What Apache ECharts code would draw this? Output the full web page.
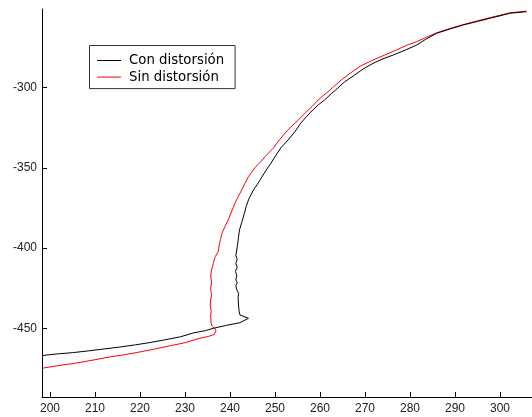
<!DOCTYPE html>
<html>
<head>
<meta charset="utf-8">
<script src="https://cdn.jsdelivr.net/npm/echarts@6/dist/echarts.min.js"></script>
<style>
  html, body { margin: 0; padding: 0; background: #fff; }
  #chart { width: 532px; height: 417px; }
</style>
</head>
<body>
<div id="chart"></div>
<script>
// Trajectory with and without distortion: [x, y] samples
const conDistorsion = [
  [198.2,-467.0],[201.5,-466.0],[205.0,-465.2],[208.5,-464.1],[212.0,-462.9],[215.5,-461.7],
  [219.0,-460.3],[222.0,-459.0],[225.5,-457.2],[229.0,-455.3],[232.0,-452.8],[234.5,-451.5],
  [236.3,-450.0],[239.0,-448.3],[242.2,-446.5],[244.1,-443.8],[242.2,-441.7],[242.0,-439.0],
  [241.9,-435.5],[241.8,-431.0],[241.9,-428.2],[241.5,-426.0],[241.3,-423.5],[241.6,-421.5],
  [241.3,-419.9],[241.5,-417.0],[241.2,-414.5],[241.6,-412.0],[241.3,-409.5],[241.6,-407.0],
  [241.3,-404.5],[241.5,-401.2],[241.7,-397.5],[241.9,-393.0],[242.1,-388.7],[242.6,-384.0],
  [243.2,-378.3],[243.6,-374.0],[244.1,-370.0],[244.6,-367.0],[245.2,-363.8],[246.0,-360.5],
  [246.7,-357.5],[248.0,-351.5],[249.0,-347.5],[250.0,-343.0],[251.3,-337.5],[252.9,-332.6],
  [254.4,-327.5],[255.7,-322.2],[257.0,-318.0],[258.4,-313.9],[259.7,-310.5],[261.0,-307.7],
  [262.6,-303.5],[263.5,-301.4],[265.4,-296.5],[267.7,-292.1],[269.6,-288.3],[271.8,-284.8],
  [274.0,-282.0],[276.3,-279.6],[279.0,-276.5],[281.5,-273.4],[283.5,-269.8],[285.9,-266.1],
  [289.0,-263.3],[291.8,-260.9],[295.0,-258.7],[297.8,-256.7],[300.0,-255.2],[302.2,-253.6],
  [305.9,-252.6]
];

const sinDistorsion = [
  [198.2,-474.9],[202.0,-473.2],[206.0,-471.6],[210.0,-469.6],[213.0,-468.0],[216.3,-466.6],
  [219.5,-465.0],[223.0,-463.1],[226.5,-461.0],[230.0,-459.0],[233.3,-456.2],[235.3,-455.0],
  [236.5,-453.8],[236.9,-451.6],[236.6,-450.0],[236.1,-449.0],[235.8,-446.9],[235.7,-443.0],
  [235.8,-439.0],[235.6,-435.5],[235.7,-432.4],[235.9,-429.0],[235.7,-425.5],[235.9,-421.0],
  [235.7,-417.5],[235.9,-413.7],[236.3,-409.5],[236.7,-405.4],[237.4,-402.2],[237.6,-398.0],
  [237.9,-394.5],[238.2,-390.8],[238.9,-386.5],[239.6,-382.5],[240.3,-377.5],[241.1,-372.1],
  [241.8,-368.0],[242.6,-363.8],[243.3,-359.8],[244.1,-355.5],[245.5,-350.0],[246.7,-346.5],
  [247.8,-343.0],[249.5,-338.0],[251.0,-332.5],[252.2,-328.4],[253.7,-324.0],[255.2,-320.1],
  [256.8,-315.5],[258.2,-311.8],[259.3,-308.5],[260.4,-305.6],[262.0,-302.0],[263.0,-299.4],
  [264.8,-295.0],[266.7,-291.0],[269.0,-286.5],[271.8,-282.7],[274.5,-279.5],[277.0,-276.5],
  [279.3,-273.5],[281.5,-271.3],[283.7,-268.5],[285.9,-265.8],[289.0,-263.0],[291.8,-260.7],
  [295.0,-258.3],[297.8,-256.3],[300.0,-254.8],[302.2,-253.3],[305.9,-252.3]
];

const xTicks = [200, 210, 220, 230, 240, 250, 260, 270, 280, 290, 300];
const yTicks = [-300, -350, -400, -450];
const seriesNames = ['Con distorsión', 'Sin distorsión'];

const FONT = '"Liberation Sans", Arial, sans-serif';

const chart = echarts.init(document.getElementById('chart'), null, { renderer: 'canvas' });

chart.setOption({
  animation: false,
  backgroundColor: '#fff',
  grid: { left: 42, top: 9, width: 490, height: 388, containLabel: false },
  xAxis: {
    type: 'value',
    min: 198.22,
    max: 307.11,
    axisLine: { show: true, lineStyle: { color: '#000', width: 1 } },
    axisTick: { show: true, inside: true, length: 5, customValues: xTicks, lineStyle: { color: '#000' } },
    axisLabel: { customValues: xTicks, color: '#222', fontSize: 12, fontFamily: FONT, margin: 6 },
    splitLine: { show: false }
  },
  yAxis: {
    type: 'value',
    min: -492.84,
    max: -250.94,
    axisLine: { show: true, lineStyle: { color: '#000', width: 1 } },
    axisTick: { show: true, inside: true, length: 5, customValues: yTicks, lineStyle: { color: '#000' } },
    axisLabel: { customValues: yTicks, color: '#222', fontSize: 12, fontFamily: FONT, margin: 5 },
    splitLine: { show: false }
  },
  legend: {
    orient: 'vertical',
    left: 89.5,
    top: 45.5,
    padding: [8.5, 11, 5, 7.5],
    itemGap: 3.6,
    itemWidth: 24,
    itemHeight: 1,
    icon: 'rect',
    borderColor: '#333',
    borderWidth: 1,
    backgroundColor: '#fff',
    textStyle: { color: '#000', fontSize: 13.3, fontFamily: '"DejaVu Sans", sans-serif', padding: [0, 0, 0, 3] },
    data: seriesNames
  },
  series: [
    {
      name: seriesNames[0],
      type: 'line',
      data: conDistorsion,
      symbol: 'none',
      lineStyle: { color: '#000', width: 1 },
      itemStyle: { color: '#000' },
      z: 3
    },
    {
      name: seriesNames[1],
      type: 'line',
      data: sinDistorsion,
      symbol: 'none',
      lineStyle: { color: '#ff0000', width: 1 },
      itemStyle: { color: '#ff0000' },
      z: 2
    }
  ]
});
</script>
</body>
</html>
